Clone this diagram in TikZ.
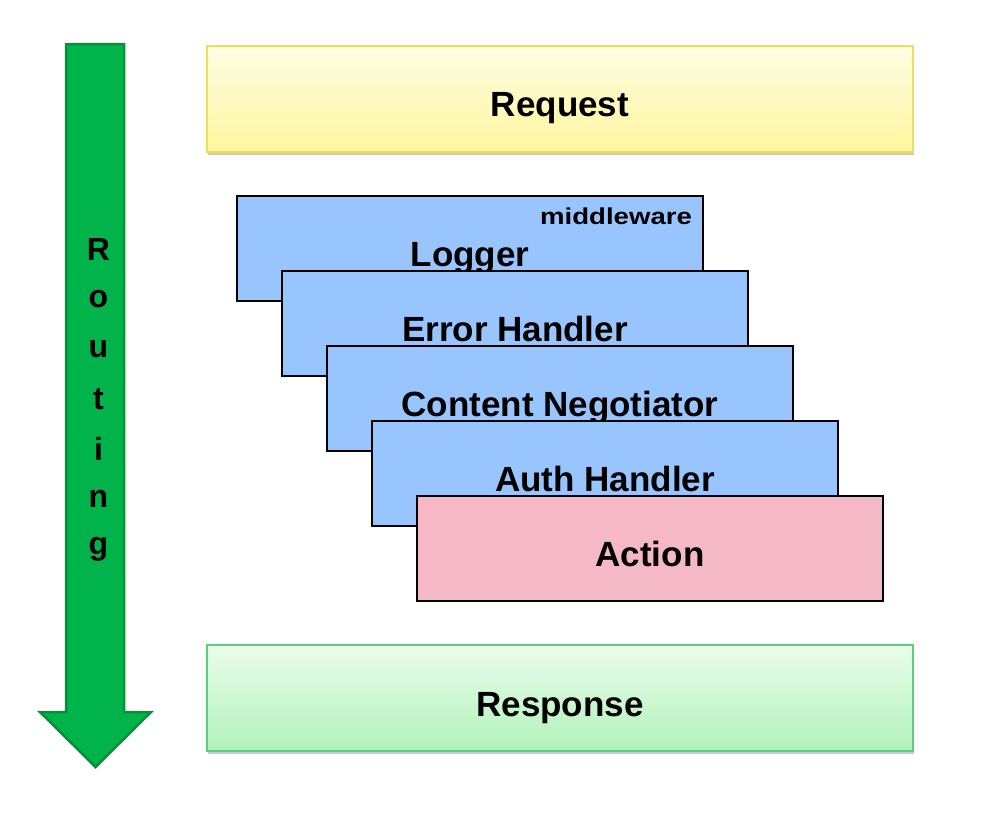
\documentclass[tikz,border=0pt]{standalone}
\usepackage{fontspec}
\setmainfont{Liberation Sans}
\usetikzlibrary{shadows}
\definecolor{arrowfill}{HTML}{00B34A}
\definecolor{arrowline}{HTML}{009236}
\definecolor{reqtop}{HTML}{FEFDE4}
\definecolor{reqbot}{HTML}{FEF69E}
\definecolor{reqline}{HTML}{F0DC5C}
\definecolor{restop}{HTML}{EBFCEB}
\definecolor{resbot}{HTML}{B0F2BA}
\definecolor{resline}{HTML}{5CCF7C}
\definecolor{mwblue}{HTML}{99C5FF}
\definecolor{actpink}{HTML}{F5B8C6}
\tikzset{
  mwbox/.style={draw=black, line width=2pt, fill=mwblue, minimum width=466pt, minimum height=105pt, inner sep=0pt},
  actbox/.style={mwbox, fill=actpink},
  bigtext/.style={font=\fontsize{35}{40}\selectfont\bfseries, inner sep=0pt, anchor=base, yshift=-18pt},
  routetext/.style={font=\fontsize{32}{36}\selectfont\bfseries, inner sep=0pt},
  endbox/.style={line width=2pt, minimum width=706pt, minimum height=106pt, inner sep=0pt,
    drop shadow={shadow xshift=1pt, shadow yshift=-3pt, fill=black!45, opacity=.45}},
}
\begin{document}
\begin{tikzpicture}[x=1pt,y=-1pt]
\useasboundingbox (0,0) rectangle (984,820);
% routing arrow
\draw[fill=arrowfill, draw=arrowline, line width=2.5pt, line join=miter]
  (66,44) -- (124,44) -- (124,712) -- (151,712) -- (95.5,767) -- (40,712) -- (66,712) -- cycle;
\foreach \l [count=\i from 0] in {R,o,u,t,i,n,g}
  \node[routetext] (rt\i) at (98.5,249+50*\i) {\l};
% request / response
\node[endbox, draw=reqline, top color=reqtop, bottom color=reqbot] (req) at (560,98.5) {};
\node[bigtext] (reqt) at (req.center) {Request};
\node[endbox, draw=resline, top color=restop, bottom color=resbot] (res) at (560,698) {};
\node[bigtext] (rest) at (res.center) {Response};
% middleware stack
\node[mwbox] (log) at (470,248) {};
\node[bigtext] (logt) at (log.center) {Logger};
\node[font=\fontsize{23}{26}\selectfont\bfseries, inner sep=0pt] (mw) at (616,216) {\scalebox{1.2}[1]{middleware}};
\node[mwbox] (err) at (515,323) {};
\node[bigtext] (errt) at (err.center) {Error Handler};
\node[mwbox] (con) at (560,398.5) {};
\node[bigtext] (cont) at (con.center) {Content Negotiator};
\node[mwbox] (auth) at (605,473.5) {};
\node[bigtext] (autht) at (auth.center) {Auth Handler};
\node[actbox] (act) at (650,548) {};
\node[bigtext] (actt) at (act.center) {Action};
\end{tikzpicture}
\end{document}
